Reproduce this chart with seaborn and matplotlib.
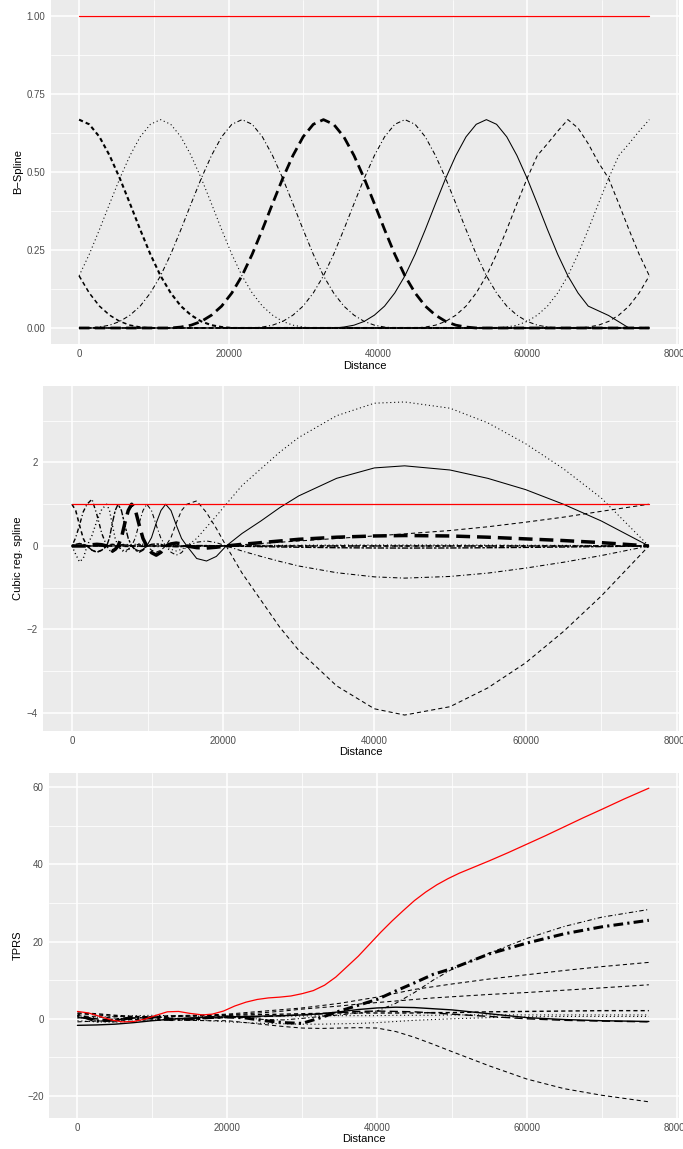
import matplotlib
matplotlib.use("Agg")
import matplotlib.pyplot as plt
import matplotlib.transforms as mtrans
import seaborn as sns

# ---------------- Panel 1: B-spline basis ----------------
bs_x = [0, 1362.5, 2725, 4087.5, 5450, 6812.5, 8175, 9537.5, 10900, 12262.5, 13625, 14987.5,
        16350, 17712.5, 19075, 20437.5, 21800, 23162.5, 24525, 25887.5, 27250, 28612.5,
        29975, 31337.5, 32700, 34062.5, 35425, 36787.5, 38150, 39512.5, 40875, 42237.5,
        43600, 44962.5, 46325, 47687.5, 49050, 50412.5, 51775, 53137.5, 54500, 55862.5,
        57225, 58587.5, 59950, 61312.5, 62675, 64037.5, 65400, 66762.5, 68125, 69487.5,
        70850, 72212.5, 73575, 74937.5, 76300]
bs_1 = [0.167, 0.112, 0.070, 0.041, 0.021, 0.009, 0.003, 0.0, 0.0] + [0.0] * 48
bs_2 = [0.667, 0.652, 0.612, 0.552, 0.479, 0.398, 0.315, 0.236, 0.167, 0.112, 0.070, 0.041,
        0.021, 0.009, 0.003, 0.0, 0.0] + [0.0] * 40
bs_3 = [0.167, 0.236, 0.315, 0.398, 0.479, 0.552, 0.612, 0.652, 0.667, 0.652, 0.612, 0.552,
        0.479, 0.398, 0.315, 0.236, 0.167, 0.112, 0.070, 0.041, 0.021, 0.009, 0.003, 0.0,
        0.0] + [0.0] * 32
bs_4 = [0.0, 0.0, 0.003, 0.009, 0.021, 0.041, 0.070, 0.112, 0.167, 0.236, 0.315, 0.398,
        0.479, 0.552, 0.612, 0.652, 0.667, 0.652, 0.612, 0.552, 0.479, 0.398, 0.315, 0.236,
        0.167, 0.112, 0.070, 0.041, 0.021, 0.009, 0.003, 0.0, 0.0] + [0.0] * 24
bs_5 = [0.0] * 8 + [0.0, 0.0, 0.003, 0.009, 0.021, 0.041, 0.070, 0.112, 0.167, 0.236, 0.315,
                    0.398, 0.479, 0.552, 0.612, 0.652, 0.667, 0.652, 0.612, 0.552, 0.479,
                    0.398, 0.315, 0.236, 0.167, 0.112, 0.070, 0.041, 0.021, 0.009, 0.003,
                    0.0, 0.0] + [0.0] * 16
bs_6 = [0.0] * 16 + [0.0, 0.0, 0.003, 0.009, 0.021, 0.041, 0.070, 0.112, 0.167, 0.236, 0.315,
                     0.398, 0.479, 0.552, 0.612, 0.652, 0.667, 0.652, 0.612, 0.552, 0.479,
                     0.398, 0.315, 0.236, 0.167, 0.112, 0.070, 0.041, 0.021, 0.009, 0.003,
                     0.0, 0.0] + [0.0] * 8
bs_7 = [0.0] * 24 + [0.0, 0.0, 0.003, 0.009, 0.021, 0.041, 0.070, 0.112, 0.167, 0.236, 0.315,
                     0.398, 0.479, 0.552, 0.612, 0.652, 0.667, 0.652, 0.612, 0.552, 0.479,
                     0.398, 0.315, 0.236, 0.167, 0.112, 0.070, 0.055, 0.040, 0.020, 0.0,
                     0.0, 0.0]
bs_8 = [0.0] * 32 + [0.0, 0.0, 0.003, 0.009, 0.021, 0.041, 0.070, 0.112, 0.167, 0.236, 0.315,
                     0.398, 0.479, 0.552, 0.590, 0.630, 0.667, 0.640, 0.590, 0.530, 0.479,
                     0.398, 0.315, 0.236, 0.167]
bs_9 = [0.0] * 40 + [0.0, 0.0, 0.003, 0.009, 0.021, 0.041, 0.070, 0.112, 0.167, 0.236, 0.315,
                     0.398, 0.479, 0.552, 0.590, 0.630, 0.667]
bs_10 = [0.0] * 48 + [0.0, 0.0, 0.003, 0.009, 0.021, 0.041, 0.070, 0.112, 0.167]
bs_red_x = [0, 76300]
bs_red = [1.0, 1.0]

# ---------------- Panel 2: cubic regression spline basis ----------------
cr_x = [0, 500, 1000, 1500, 2000, 2650, 3300, 3950, 4600, 4975, 5350, 5725, 6100, 6550, 7000,
        7450, 7900, 8400, 8900, 9400, 9900, 10525, 11150, 11775, 12400, 13100, 13800, 14500,
        15200, 16500, 17800, 19100, 20400, 22500, 25000, 27500, 30000, 35000, 40000, 44000,
        50000, 55000, 60000, 65000, 70000, 76300]
cr_1 = [1.0, 0.85, 0.5, 0.18, 0.0, -0.1, -0.15, -0.1, 0.0, 0.03, 0.04, 0.03, 0.0, -0.01,
        -0.01, -0.01, 0.0, 0.0, 0.0, 0.0, 0.0, 0.0, 0.0, 0.0, 0.0, 0.0, 0.0, 0.0, 0.0, 0.0,
        0.0, 0.0, 0.0, 0.0, 0.0, 0.0, 0.0, 0.0, 0.0, 0.0, 0.0, 0.0, 0.0, 0.0, 0.0, 0.0]
cr_2 = [0.0, 0.2, 0.5, 0.82, 1.0, 1.12, 0.75, 0.3, 0.0, -0.1, -0.15, -0.1, 0.0, 0.03, 0.04,
        0.03, 0.0, -0.01, -0.01, -0.01, 0.0, 0.0, 0.0, 0.0, 0.0, 0.0, 0.0, 0.0, 0.0, 0.0,
        0.0, 0.0, 0.0, 0.0, 0.0, 0.0, 0.0, 0.0, 0.0, 0.0, 0.0, 0.0, 0.0, 0.0, 0.0, 0.0]
cr_3 = [0.0, -0.2, -0.38, -0.3, 0.0, 0.25, 0.6, 0.88, 1.0, 0.85, 0.5, 0.18, 0.0, -0.1,
        -0.15, -0.1, 0.0, 0.04, 0.05, 0.04, 0.0, -0.01, -0.015, -0.01, 0.0, 0.0, 0.0, 0.0,
        0.0, 0.0, 0.0, 0.0, 0.0, 0.005, 0.01, 0.012, 0.015, 0.018, 0.02, 0.02, 0.02, 0.017,
        0.014, 0.01, 0.006, 0.0]
cr_4 = [0.0, 0.04, 0.06, 0.04, 0.0, -0.1, -0.15, -0.1, 0.0, 0.2, 0.55, 0.85, 1.0, 0.85,
        0.5, 0.18, 0.0, -0.1, -0.15, -0.1, 0.0, 0.04, 0.05, 0.04, 0.0, -0.015, -0.02,
        -0.015, 0.0, 0.01, 0.01, 0.005, 0.0, -0.008, -0.016, -0.024, -0.03, -0.042, -0.048,
        -0.05, -0.048, -0.042, -0.034, -0.025, -0.015, 0.0]
cr_5 = [0.0, 0.0, 0.0, 0.0, 0.0, 0.03, 0.04, 0.03, 0.0, -0.08, -0.12, -0.08, 0.0, 0.2,
        0.55, 0.85, 1.0, 0.85, 0.5, 0.18, 0.0, -0.16, -0.22, -0.15, 0.0, 0.05, 0.07, 0.05,
        0.0, -0.04, -0.05, -0.03, 0.0, 0.04, 0.08, 0.12, 0.16, 0.21, 0.24, 0.25, 0.24, 0.21,
        0.17, 0.13, 0.08, 0.0]
cr_6 = [0.0, 0.0, 0.0, 0.0, 0.0, 0.0, 0.0, 0.0, 0.0, 0.02, 0.03, 0.02, 0.0, -0.08, -0.12,
        -0.08, 0.0, 0.2, 0.55, 0.85, 1.0, 0.85, 0.5, 0.18, 0.0, -0.15, -0.22, -0.16, 0.0,
        0.09, 0.12, 0.08, 0.0, -0.12, -0.25, -0.37, -0.48, -0.64, -0.74, -0.77, -0.73,
        -0.65, -0.53, -0.39, -0.23, 0.0]
cr_7 = [0.0, 0.0, 0.0, 0.0, 0.0, 0.0, 0.0, 0.0, 0.0, 0.0, 0.0, 0.0, 0.0, 0.02, 0.03, 0.02,
        0.0, -0.08, -0.12, -0.08, 0.0, 0.2, 0.55, 0.85, 1.0, 0.85, 0.5, 0.18, 0.0, -0.3,
        -0.36, -0.25, 0.0, 0.3, 0.6, 0.92, 1.2, 1.62, 1.87, 1.92, 1.82, 1.62, 1.35, 1.0,
        0.6, 0.0]
cr_8 = [0.0, 0.0, 0.0, 0.0, 0.0, 0.0, 0.0, 0.0, 0.0, 0.0, 0.0, 0.0, 0.0, 0.0, 0.0, 0.0,
        0.0, 0.03, 0.04, 0.03, 0.0, -0.1, -0.15, -0.1, 0.0, 0.2, 0.55, 0.85, 1.0, 1.08, 0.8,
        0.42, 0.0, -0.65, -1.3, -1.95, -2.5, -3.35, -3.9, -4.05, -3.85, -3.4, -2.8, -2.05,
        -1.2, 0.0]
cr_9 = [0.0, 0.0, 0.0, 0.0, 0.0, 0.0, 0.0, 0.0, 0.0, 0.0, 0.0, 0.0, 0.0, 0.0, 0.0, 0.0,
        0.0, 0.0, 0.0, 0.0, 0.0, 0.02, 0.03, 0.02, 0.0, -0.08, -0.12, -0.08, 0.0, 0.18, 0.45,
        0.72, 1.0, 1.45, 1.85, 2.25, 2.6, 3.12, 3.42, 3.45, 3.3, 2.95, 2.45, 1.85, 1.15, 0.0]
cr_10 = [0.0] * 32 + [0.0, 0.03, 0.06, 0.09, 0.12, 0.18, 0.24, 0.29, 0.37, 0.46, 0.57, 0.69,
                      0.83, 1.0]
cr_red_x = [0, 76300]
cr_red = [1.0, 1.0]

# ---------------- Panel 3: thin plate regression spline basis ----------------
tp_x = [0, 2500, 5000, 7500, 10000, 12500, 15000, 17500, 20000, 22500, 25000, 27500, 30000,
        32500, 35000, 37500, 40000, 42500, 45000, 47500, 50000, 55000, 60000, 65000, 70000, 76300]
tp_1 = [0.6, -0.4, -0.8, 0.2, 0.6, 0.2, -0.3, 0.1, 0.4, 0.2, -0.2, -0.3, 0.1, 0.6, 1.0,
        1.5, 2.0, 4.0, 6.8, 10.0, 12.8, 17.0, 20.8, 23.9, 26.3, 28.3]
tp_2 = [1.0, -0.6, -0.3, 0.3, 0.2, -0.2, -0.1, 0.3, 0.5, 0.2, -0.5, -1.0, -1.2, 0.3, 2.0,
        3.5, 5.0, 7.2, 9.3, 11.5, 13.0, 16.8, 19.6, 22.0, 23.8, 25.5]
tp_3 = [1.3, 1.0, 0.6, 0.5, 0.6, 0.8, 0.9, 1.0, 1.2, 1.6, 2.0, 2.4, 2.8, 3.4, 4.0, 4.8,
        5.6, 6.6, 7.6, 8.3, 9.0, 10.3, 11.4, 12.5, 13.5, 14.6]
tp_4 = [-0.8, -0.6, -0.5, -0.2, 0.2, 0.5, 0.7, 0.9, 1.0, 1.3, 1.6, 2.0, 2.5, 2.9, 3.3, 3.8,
        4.2, 4.6, 5.0, 5.4, 5.7, 6.3, 6.8, 7.4, 8.0, 8.8]
tp_5 = [0.8, 0.5, 0.2, -0.2, -0.4, -0.3, -0.4, -0.5, -0.5, -1.0, -1.5, -2.0, -2.4, -2.5,
        -2.4, -2.3, -2.4, -3.3, -4.8, -6.6, -8.5, -12.2, -15.6, -18.1, -19.8, -21.5]
tp_6 = [-1.7, -1.6, -1.4, -1.0, -0.5, -0.1, 0.2, 0.4, 0.5, 0.6, 0.7, 0.8, 1.0, 1.3, 1.8,
        2.4, 2.8, 3.0, 2.9, 2.6, 2.3, 1.3, 0.3, -0.2, -0.5, -0.7]
tp_7 = [0.3, 0.0, -0.3, 0.2, 0.3, 0.1, 0.0, 0.2, 0.3, 0.4, 0.6, 0.8, 1.0, 1.3, 1.6, 1.9,
        2.0, 1.9, 1.8, 1.5, 1.2, 0.6, 0.0, -0.4, -0.6, -0.8]
tp_8 = [1.5, 1.3, 0.9, 0.6, 0.5, 0.6, 0.7, 0.8, 0.9, 1.0, 1.1, 1.2, 1.3, 1.4, 1.5, 1.5,
        1.5, 1.5, 1.5, 1.6, 1.6, 1.8, 1.9, 2.0, 2.1, 2.1]
tp_9 = [0.2, 0.4, 0.6, 0.8, 0.9, 0.8, 0.7, 0.6, 0.5, 0.5, 0.6, 0.7, 0.7, 0.8, 0.8, 0.8,
        0.8, 0.9, 0.9, 0.9, 1.0, 1.0, 1.0, 1.0, 1.0, 1.0]
tp_10 = [-0.5, -0.8, -0.9, -0.6, -0.3, -0.1, -0.2, -0.5, -0.8, -1.0, -1.2, -1.3, -1.4, -1.4,
         -1.3, -1.2, -1.0, -0.7, -0.4, -0.2, 0.0, 0.3, 0.5, 0.6, 0.6, 0.6]
tp_red_x = [0, 1500, 3000, 4500, 6000, 7500, 9000, 10500, 12000, 13500, 15000, 16700, 18000,
            19500, 21000, 22500, 24000, 25500, 27000, 28500, 30000, 31500, 33000, 34500,
            36000, 37500, 39000, 40500, 42000, 43500, 45000, 46500, 48000, 49500, 51000,
            53000, 55000, 57500, 60000, 62500, 65000, 67500, 70000, 73000, 76300]
tp_red = [1.9, 1.5, 0.6, -0.3, -0.8, -0.7, -0.1, 0.9, 1.8, 1.9, 1.4, 1.0, 1.2, 2.0, 3.3,
          4.3, 5.0, 5.4, 5.6, 5.9, 6.5, 7.3, 8.7, 10.8, 13.5, 16.2, 19.3, 22.4, 25.3, 28.0,
          30.6, 32.8, 34.7, 36.3, 37.7, 39.3, 40.9, 43.0, 45.2, 47.4, 49.7, 52.0, 54.2, 56.9,
          59.7]

x_ticks = [0, 20000, 40000, 60000, 80000]
x_tick_labels = ["0", "20000", "40000", "60000", "80000"]

# ---------------- style ----------------
sns.set_theme(style="darkgrid")
plt.rcParams['font.family'] = ['Liberation Sans', 'DejaVu Sans']
plt.rcParams['lines.scale_dashes'] = False
plt.rcParams['axes.facecolor'] = '#EBEBEB'
plt.rcParams['lines.solid_joinstyle'] = 'round'
plt.rcParams['lines.dash_joinstyle'] = 'round'

DASH = (0, (3.0, 2.2))
DOT = (0, (0.8, 2.0))
DOTDASH = (0, (0.8, 1.8, 3.2, 1.8))
LONGDASH = (0, (6.0, 3.0))
TWODASH = (0, (1.8, 1.2, 4.5, 1.2))
BOLD_LONGDASH_1 = (0, (7.5, 3.8))
BOLD_LONGDASH_2 = (0, (10.0, 5.0))
BOLD_DOTDASH = (0, (1.6, 3.0, 7.0, 3.0))
SOLID = '-'
W = 0.75

W_PX, H_PX = 683, 1149
fig = plt.figure(figsize=(W_PX / 100, H_PX / 100), dpi=100)
fig.patch.set_facecolor('white')


def make_ax(left, right, top, bottom):
    return fig.add_axes([left / W_PX, (H_PX - bottom) / H_PX, (right - left) / W_PX,
                         (bottom - top) / H_PX])


def draw(ax, x, y, ls, lw, color='black'):
    sns.lineplot(x=x, y=y, ax=ax, color=color, linewidth=lw, linestyle=ls,
                 estimator=None, sort=False, legend=False)


def style_ax(ax, ylim, yticks, ylabels, yminor, ylabel, xlabel_y):
    ax.set_xlim(-3825, 80325)
    ax.set_ylim(*ylim)
    ax.set_xticks(x_ticks)
    ax.set_xticklabels(x_tick_labels)
    ax.set_xticks([10000, 30000, 50000, 70000], minor=True)
    ax.set_yticks(yticks)
    ax.set_yticklabels(ylabels)
    ax.set_yticks(yminor, minor=True)
    ax.grid(which='major', color='white', linewidth=1.1)
    ax.grid(which='minor', color='white', linewidth=0.55)
    ax.set_axisbelow(True)
    for s in ax.spines.values():
        s.set_visible(False)
    ax.tick_params(which='major', length=2.2, width=0.7, color='#333333',
                   labelcolor='#4D4D4D', labelsize=7, pad=1.6)
    ax.tick_params(which='minor', length=0)
    ax.set_xlabel('Distance', fontsize=8, color='black')
    ax.set_ylabel(ylabel, fontsize=8, color='black')
    ax.xaxis.label.set_verticalalignment('center')
    ax.yaxis.label.set_verticalalignment('center')
    ax.xaxis.set_label_coords(
        0.5, (H_PX - xlabel_y) / H_PX,
        transform=mtrans.blended_transform_factory(ax.transAxes, fig.transFigure))
    ax.yaxis.set_label_coords(
        18 / W_PX, 0.5,
        transform=mtrans.blended_transform_factory(fig.transFigure, ax.transAxes))


# ---- panel 1 ----
ax1 = make_ax(50.5, 679.4, 0, 343.6)
draw(ax1, bs_x, bs_1, DASH, 1.1)
draw(ax1, bs_x, bs_2, DASH, 1.5)
draw(ax1, bs_x, bs_3, DOT, W)
draw(ax1, bs_x, bs_4, DOTDASH, W)
draw(ax1, bs_x, bs_5, BOLD_LONGDASH_1, 2.0)
draw(ax1, bs_x, bs_6, DOTDASH, W)
draw(ax1, bs_x, bs_7, SOLID, W)
draw(ax1, bs_x, bs_8, DASH, W)
draw(ax1, bs_x, bs_9, DOT, W)
draw(ax1, bs_x, bs_10, DASH, W)
draw(ax1, bs_red_x, bs_red, SOLID, 0.9, 'red')
style_ax(ax1, (-0.05, 1.05), [0, 0.25, 0.5, 0.75, 1.0],
         ["0.00", "0.25", "0.50", "0.75", "1.00"], [0.125, 0.375, 0.625, 0.875],
         "B\u2212Spline", 366)

# ---- panel 2 ----
ax2 = make_ax(43, 679.3, 386.3, 730.7)
draw(ax2, cr_x, cr_1, DASH, 1.1)
draw(ax2, cr_x, cr_2, DOTDASH, 1.0)
draw(ax2, cr_x, cr_3, DOT, 1.0)
draw(ax2, cr_x, cr_4, TWODASH, 1.0)
draw(ax2, cr_x, cr_5, BOLD_LONGDASH_2, 2.5)
draw(ax2, cr_x, cr_6, DOTDASH, W)
draw(ax2, cr_x, cr_7, SOLID, W)
draw(ax2, cr_x, cr_8, DASH, W)
draw(ax2, cr_x, cr_9, DOT, W)
draw(ax2, cr_x, cr_10, DASH, W)
draw(ax2, cr_red_x, cr_red, SOLID, 0.9, 'red')
style_ax(ax2, (-4.425, 3.825), [-4, -2, 0, 2], ["\u22124", "\u22122", "0", "2"],
         [-3, -1, 1, 3], "Cubic reg. spline", 752)

# ---- panel 3 ----
ax3 = make_ax(48.8, 679.0, 772.5, 1117.5)
draw(ax3, tp_x, tp_1, DOTDASH, W)
draw(ax3, tp_x, tp_2, BOLD_DOTDASH, 2.2)
draw(ax3, tp_x, tp_3, DASH, W)
draw(ax3, tp_x, tp_4, DASH, W)
draw(ax3, tp_x, tp_5, DASH, W)
draw(ax3, tp_x, tp_6, SOLID, 1.0)
draw(ax3, tp_x, tp_7, LONGDASH, 1.0)
draw(ax3, tp_x, tp_8, DASH, 1.0)
draw(ax3, tp_x, tp_9, DOT, W)
draw(ax3, tp_x, tp_10, DOT, W)
draw(ax3, tp_red_x, tp_red, SOLID, 0.9, 'red')
style_ax(ax3, (-25.56, 63.76), [-20, 0, 20, 40, 60],
         ["\u221220", "0", "20", "40", "60"], [-10, 10, 30, 50], "TPRS", 1139)

fig.savefig("out.png", dpi=100, facecolor='white')
